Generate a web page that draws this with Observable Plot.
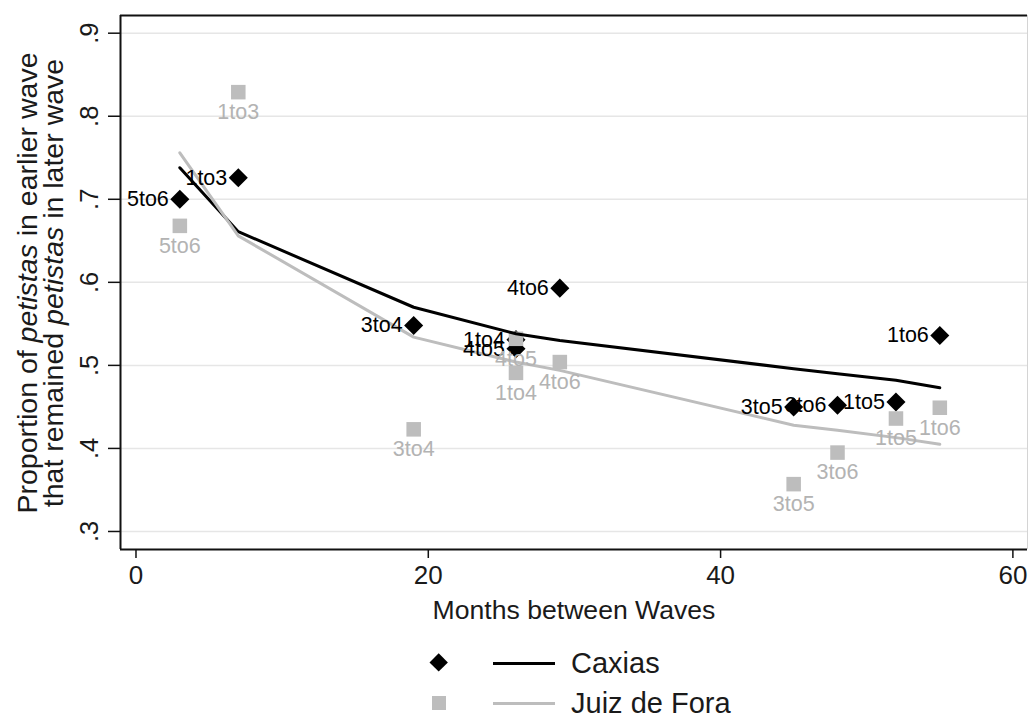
<!DOCTYPE html>
<html>
<head>
<meta charset="utf-8">
<script src="https://cdn.jsdelivr.net/npm/d3@7"></script>
<script src="https://cdn.jsdelivr.net/npm/@observablehq/plot@0.6"></script>
<style>
  html, body { margin: 0; padding: 0; background: #fff; }
  body { width: 1028px; height: 717px; overflow: hidden; font-family: "Liberation Sans", Arial, sans-serif; color: #1a1a1a; }
  #legend { position: relative; width: 1028px; height: 82px; }
  .lg { position: absolute; }
</style>
</head>
<body>
<div id="chart"></div>
<div id="legend"></div>
<script>
// ---- data ----
const caxLabels = ["5to6", "1to3", "3to4", "1to4", "4to5", "4to6", "3to5", "3to6", "1to5", "1to6"];
const caxMonths = [3, 7, 19, 26, 26, 29, 45, 48, 52, 55];
const caxProp   = [0.700, 0.726, 0.548, 0.531, 0.520, 0.593, 0.450, 0.452, 0.456, 0.536];

const jdfLabels = ["5to6", "1to3", "3to4", "4to5", "1to4", "4to6", "3to5", "3to6", "1to5", "1to6"];
const jdfMonths = [3, 7, 19, 26, 26, 29, 45, 48, 52, 55];
const jdfProp   = [0.668, 0.829, 0.423, 0.532, 0.491, 0.504, 0.357, 0.395, 0.436, 0.449];

const fitMonths = [3, 7, 19, 26, 29, 45, 48, 52, 55];
const caxFit    = [0.738, 0.661, 0.570, 0.538, 0.530, 0.496, 0.490, 0.482, 0.473];
const jdfFit    = [0.756, 0.656, 0.534, 0.504, 0.494, 0.428, 0.422, 0.413, 0.405];

const xTicks = [0, 20, 40, 60];
const yTicks = [0.3, 0.4, 0.5, 0.6, 0.7, 0.8, 0.9];
const seriesNames = ["Caxias", "Juiz de Fora"];

// ---- tables ----
const cax = caxLabels.map((l, i) => ({label: l, x: caxMonths[i], y: caxProp[i]}));
const jdf = jdfLabels.map((l, i) => ({label: l, x: jdfMonths[i], y: jdfProp[i]}));
const caxLine = fitMonths.map((m, i) => ({x: m, y: caxFit[i]}));
const jdfLine = fitMonths.map((m, i) => ({x: m, y: jdfFit[i]}));

const xDomain = [-1.06, 61.0];
const yDomain = [0.2783, 0.9213];
const GREY = "#bdbdbd";
const GREY_TXT = "#b3b3b3";
const FONT = "Liberation Sans, Arial, sans-serif";

const diamond = {
  draw(ctx, size) {
    const h = Math.sqrt(size / 2);
    ctx.moveTo(0, -h); ctx.lineTo(h, 0); ctx.lineTo(0, h); ctx.lineTo(-h, 0); ctx.closePath();
  }
};

const chart = Plot.plot({
  width: 1028,
  height: 635,
  marginLeft: 120,
  marginTop: 15,
  marginRight: 1,
  marginBottom: 86,
  style: {fontFamily: FONT, background: "white", color: "#1a1a1a"},
  x: {domain: xDomain},
  y: {domain: yDomain},
  marks: [
    Plot.ruleY(yTicks, {stroke: "#e6e6e6", strokeWidth: 1.5}),
    Plot.ruleX([xDomain[1]], {stroke: "#d4d4d4", strokeWidth: 1}),
    Plot.ruleX([xDomain[0]], {stroke: "#111", strokeWidth: 2}),
    Plot.ruleY([yDomain[0]], {stroke: "#111", strokeWidth: 2}),
    Plot.ruleY([yDomain[1]], {stroke: "#111", strokeWidth: 2}),
    Plot.axisY({ticks: yTicks, tickSize: 12, tickFormat: () => "", label: null, stroke: "#111", strokeWidth: 1.5}),
    Plot.text(yTicks, {y: d => d, text: d => d.toFixed(1).replace(/^0/, ""), frameAnchor: "left",
      rotate: -90, textAnchor: "middle", lineAnchor: "bottom", dx: -23, fontSize: 25.5, fill: "#1a1a1a"}),
    Plot.axisX({ticks: xTicks, tickSize: 9, tickPadding: 7, fontSize: 26, label: null, stroke: "#111", strokeWidth: 1.5, fill: "#1a1a1a"}),
    Plot.text(["Months between Waves"], {frameAnchor: "bottom", dy: 69, lineAnchor: "bottom", fontSize: 26.6, fill: "#1a1a1a"}),
    // markers
    Plot.dot(cax, {x: "x", y: "y", symbol: diamond, r: 7.6, fill: "#000", stroke: "none"}),
    Plot.dot(jdf, {x: "x", y: "y", symbol: "square", r: 8.2, fill: GREY, stroke: "none"}),
    // fitted lines
    Plot.line(caxLine, {x: "x", y: "y", stroke: "#000", strokeWidth: 3}),
    Plot.line(jdfLine, {x: "x", y: "y", stroke: GREY, strokeWidth: 3}),
    // labels
    Plot.text(cax, {x: "x", y: "y", text: "label", textAnchor: "end", dx: -11, fontSize: 21.5, fill: "#000"}),
    Plot.text(jdf, {x: "x", y: "y", text: "label", textAnchor: "middle", dy: 20, fontSize: 21.5, fill: GREY_TXT})
  ]
});

// y-axis title with italic words
const svg = d3.select(chart);
const ytitle = [
  [["Proportion of ", false], ["petistas", true], [" in earlier wave", false]],
  [["that remained ", false], ["petistas", true], [" in later wave", false]]
];
const xs = [37, 63];
ytitle.forEach((parts, i) => {
  const t = svg.append("text")
    .attr("transform", `translate(${xs[i]},283) rotate(-90)`)
    .attr("text-anchor", "middle")
    .attr("font-family", FONT)
    .attr("font-size", 28.5)
    .attr("fill", "#1a1a1a");
  parts.forEach(([s, it]) => {
    const ts = t.append("tspan").text(s);
    if (it) ts.attr("font-style", "italic");
  });
});
document.getElementById("chart").appendChild(chart);

// legend (HTML, below the SVG)
const legend = document.getElementById("legend");
const rows = [
  {name: seriesNames[0], cy: 28, marker: "diamond", color: "#000", line: "#000"},
  {name: seriesNames[1], cy: 68, marker: "square", color: GREY, line: GREY}
];
rows.forEach(r => {
  const m = document.createElement("div");
  m.className = "lg";
  if (r.marker === "diamond") {
    const s = 13.4;
    Object.assign(m.style, {left: (439 - s / 2) + "px", top: (r.cy - s / 2) + "px", width: s + "px", height: s + "px",
      background: r.color, transform: "rotate(45deg)"});
  } else {
    const s = 14.5;
    Object.assign(m.style, {left: (439 - s / 2) + "px", top: (r.cy - s / 2) + "px", width: s + "px", height: s + "px",
      background: r.color});
  }
  legend.appendChild(m);
  const ln = document.createElement("div");
  ln.className = "lg";
  Object.assign(ln.style, {left: "493px", top: (r.cy - 1.5) + "px", width: "62px", height: "3px", background: r.line});
  legend.appendChild(ln);
  const tx = document.createElement("div");
  tx.className = "lg";
  tx.textContent = r.name;
  Object.assign(tx.style, {left: "571px", top: (r.cy - 17) + "px", fontSize: "29px", lineHeight: "34px", whiteSpace: "nowrap", color: "#1a1a1a"});
  legend.appendChild(tx);
});
</script>
</body>
</html>
